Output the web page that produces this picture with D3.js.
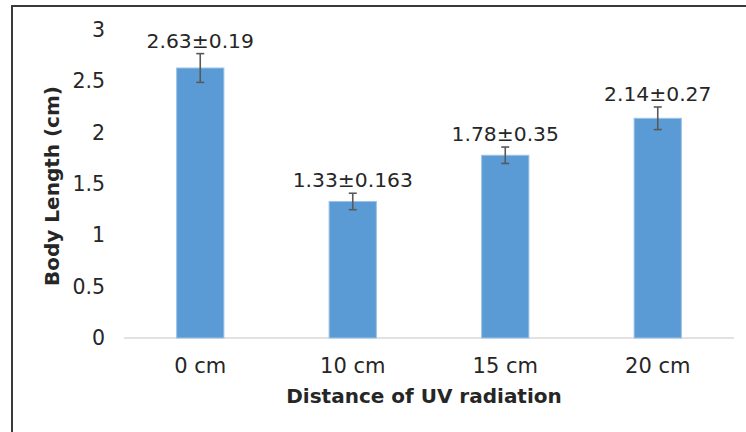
<!DOCTYPE html>
<html>
<head>
<meta charset="utf-8">
<script src="https://cdn.jsdelivr.net/npm/d3@7/dist/d3.min.js"></script>
<style>
  html, body { margin: 0; padding: 0; background: #fff; }
  svg { display: block; }
  text { font-family: Verdana, "DejaVu Sans", sans-serif; fill: #262626; }
</style>
</head>
<body>
<svg id="chart" width="746" height="432"></svg>
<script>
const categories = ["0 cm", "10 cm", "15 cm", "20 cm"];
const means = [2.63, 1.33, 1.78, 2.14];
const errorBars = [0.14, 0.08, 0.08, 0.11];
const labels = ["2.63±0.19", "1.33±0.163", "1.78±0.35", "2.14±0.27"];
const yTicks = [0, 0.5, 1, 1.5, 2, 2.5, 3];

const W = 746, H = 432;
const margin = { top: 30, right: 12, bottom: 94, left: 124 };
const svg = d3.select("#chart");

// outer frame
svg.append("rect")
  .attr("x", 12).attr("y", 6)
  .attr("width", W + 20).attr("height", H + 20)
  .attr("fill", "none").attr("stroke", "#3a3a3a").attr("stroke-width", 2);

const x = d3.scaleBand().domain(categories)
  .range([margin.left, W - margin.right]).paddingInner(0.69).paddingOuter(0.345);
const y = d3.scaleLinear().domain([0, 3]).range([H - margin.bottom, margin.top]);

// y axis labels
const yAxis = d3.axisLeft(y).tickValues(yTicks).tickSize(0).tickPadding(0)
  .tickFormat(d => String(d));
svg.append("g").attr("transform", `translate(${margin.left - 19},0)`).call(yAxis)
  .call(g => g.select(".domain").remove())
  .call(g => g.selectAll("text").attr("font-size", 20.5).attr("fill", "#262626")
    .attr("font-family", 'Verdana, "DejaVu Sans", sans-serif'));

// baseline
svg.append("line")
  .attr("x1", margin.left).attr("x2", W - margin.right)
  .attr("y1", y(0)).attr("y2", y(0))
  .attr("stroke", "#d9d9d9").attr("stroke-width", 1.5);

// bars
svg.append("g").selectAll("rect").data(categories).join("rect")
  .attr("x", d => x(d)).attr("width", x.bandwidth())
  .attr("y", (d, i) => y(means[i]))
  .attr("height", (d, i) => y(0) - y(means[i]))
  .attr("fill", "#5b9bd5").attr("stroke", "#9dc3e6").attr("stroke-width", 1);

// error bars
const eb = svg.append("g").attr("stroke", "#595959").attr("stroke-width", 1.6);
categories.forEach((c, i) => {
  const cx = x(c) + x.bandwidth() / 2;
  const top = y(means[i] + errorBars[i]), bot = y(means[i] - errorBars[i]);
  eb.append("line").attr("x1", cx).attr("x2", cx).attr("y1", top).attr("y2", bot);
  eb.append("line").attr("x1", cx - 4).attr("x2", cx + 4).attr("y1", top).attr("y2", top);
  eb.append("line").attr("x1", cx - 4).attr("x2", cx + 4).attr("y1", bot).attr("y2", bot);
});

// data labels
svg.append("g").selectAll("text").data(categories).join("text")
  .attr("x", d => x(d) + x.bandwidth() / 2)
  .attr("y", (d, i) => y(means[i] + errorBars[i]) - 6)
  .attr("text-anchor", "middle").attr("font-size", 20.3)
  .text((d, i) => labels[i]);

// x axis labels
const xAxis = d3.axisBottom(x).tickSize(0).tickPadding(0);
svg.append("g").attr("transform", `translate(0,${y(0) + 35})`).call(xAxis)
  .call(g => g.select(".domain").remove())
  .call(g => g.selectAll("text").attr("font-size", 21).attr("dy", 0).attr("fill", "#262626")
    .attr("font-family", 'Verdana, "DejaVu Sans", sans-serif'));

// axis titles
svg.append("text")
  .attr("x", (margin.left + W - margin.right) / 2 - 5).attr("y", 403)
  .attr("text-anchor", "middle").attr("font-size", 20).attr("font-weight", "bold")
  .attr("fill", "#0d0d0d")
  .text("Distance of UV radiation");

svg.append("text")
  .attr("transform", `translate(59,${186}) rotate(-90)`)
  .attr("text-anchor", "middle").attr("font-size", 20).attr("font-weight", "bold")
  .attr("fill", "#0d0d0d")
  .text("Body Length (cm)");
</script>
</body>
</html>
